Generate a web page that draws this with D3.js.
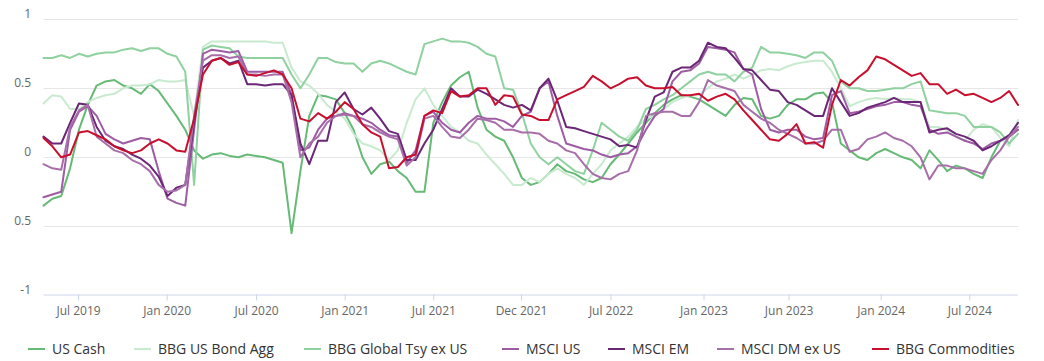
<!DOCTYPE html>
<html><head><meta charset="utf-8">
<script src="https://cdn.jsdelivr.net/npm/d3@7"></script>
<style>body{margin:0;background:#fff;} svg{display:block;font-family:"Open Sans",sans-serif;}</style>
</head><body><svg id="c" width="1044" height="361"></svg>
<script>
const seriesNames = ["US Cash","BBG US Bond Agg","BBG Global Tsy ex US","MSCI US","MSCI EM","MSCI DM ex US","BBG Commodities"];
const seriesColors = ["#66ba76","#c8eacf","#8fd19f","#9d5ca3","#6b2676","#a86ea9","#c8102e"];

const usCash = [-0.35,-0.3,-0.28,-0.08,0.2,0.38,0.52,0.55,0.56,0.52,0.5,0.46,0.53,0.48,0.39,0.3,0.2,0.05,-0.01,0.02,0.03,0.01,0.0,0.02,0.01,0.0,-0.02,-0.04,-0.55,-0.1,0.3,0.45,0.44,0.42,0.32,0.2,0.0,-0.12,-0.05,-0.03,-0.1,-0.15,-0.25,-0.25,0.25,0.4,0.52,0.58,0.62,0.36,0.2,0.15,0.12,0.0,-0.15,-0.2,-0.18,-0.12,-0.05,-0.1,-0.12,-0.16,-0.18,-0.15,-0.05,0.02,0.1,0.18,0.25,0.32,0.38,0.42,0.45,0.44,0.42,0.38,0.34,0.3,0.38,0.43,0.42,0.3,0.28,0.3,0.38,0.42,0.42,0.46,0.47,0.4,0.1,0.05,0.0,-0.02,0.03,0.06,0.03,0.0,-0.02,-0.08,0.05,-0.02,-0.1,-0.06,-0.08,-0.12,-0.15,0.0,0.12,0.15,0.2];
const usBondAgg = [0.39,0.45,0.44,0.35,0.35,0.4,0.43,0.45,0.46,0.5,0.52,0.52,0.53,0.56,0.55,0.55,0.56,0.3,0.8,0.84,0.84,0.84,0.84,0.84,0.84,0.84,0.83,0.83,0.65,0.55,0.52,0.46,0.38,0.33,0.28,0.17,0.1,0.08,0.05,-0.02,0.05,0.25,0.42,0.5,0.38,0.3,0.22,0.18,0.12,0.1,0.02,-0.05,-0.12,-0.2,-0.2,-0.15,-0.18,-0.12,-0.08,-0.12,-0.15,-0.2,-0.12,-0.05,0.05,0.1,0.15,0.22,0.28,0.3,0.35,0.4,0.43,0.45,0.45,0.5,0.55,0.57,0.6,0.57,0.6,0.63,0.64,0.63,0.66,0.68,0.69,0.7,0.7,0.62,0.5,0.37,0.4,0.42,0.43,0.42,0.43,0.42,0.42,0.4,0.22,0.22,0.2,0.15,0.12,0.2,0.24,0.22,0.14,0.08,0.27];
const globalTsy = [0.72,0.72,0.74,0.72,0.75,0.73,0.75,0.76,0.76,0.78,0.79,0.77,0.79,0.79,0.75,0.73,0.62,-0.2,0.78,0.81,0.8,0.79,0.73,0.72,0.72,0.72,0.72,0.72,0.6,0.5,0.6,0.72,0.72,0.69,0.68,0.68,0.62,0.68,0.7,0.68,0.65,0.62,0.6,0.82,0.84,0.86,0.84,0.84,0.83,0.8,0.75,0.73,0.5,0.49,0.32,0.1,0.0,-0.05,0.0,-0.05,-0.1,-0.12,0.05,0.25,0.2,0.15,0.12,0.2,0.35,0.38,0.42,0.45,0.5,0.55,0.6,0.62,0.6,0.6,0.55,0.62,0.65,0.8,0.76,0.76,0.75,0.74,0.72,0.76,0.76,0.7,0.55,0.5,0.5,0.48,0.48,0.49,0.5,0.5,0.53,0.55,0.34,0.33,0.32,0.32,0.3,0.22,0.22,0.22,0.18,0.1,0.17];
const msciUS = [-0.29,-0.27,-0.25,0.2,0.33,0.37,0.3,0.17,0.13,0.1,0.12,0.14,0.13,-0.1,-0.3,-0.33,-0.35,0.2,0.75,0.78,0.77,0.76,0.77,0.62,0.62,0.62,0.62,0.62,0.45,0.05,0.07,0.2,0.28,0.3,0.32,0.3,0.28,0.25,0.2,0.16,0.15,-0.04,0.05,0.3,0.33,0.25,0.2,0.18,0.25,0.3,0.28,0.28,0.26,0.22,0.3,0.33,0.5,0.55,0.3,0.1,0.08,0.06,0.05,0.02,0.0,0.02,0.03,0.08,0.2,0.3,0.35,0.55,0.62,0.63,0.68,0.8,0.79,0.78,0.76,0.64,0.6,0.35,0.2,0.18,0.2,0.2,0.15,0.13,0.14,0.45,0.48,0.32,0.33,0.35,0.37,0.38,0.4,0.4,0.38,0.37,0.2,0.17,0.18,0.15,0.12,0.1,0.06,0.1,0.12,0.15,0.2];
const msciEM = [0.15,0.1,0.1,0.25,0.39,0.38,0.22,0.12,0.08,0.06,0.02,-0.01,-0.06,-0.14,-0.28,-0.22,-0.2,0.25,0.65,0.7,0.72,0.68,0.7,0.53,0.53,0.52,0.53,0.53,0.45,0.1,-0.05,0.12,0.12,0.4,0.47,0.35,0.31,0.36,0.28,0.19,0.17,-0.02,-0.02,0.1,0.2,0.35,0.5,0.44,0.44,0.49,0.46,0.42,0.38,0.36,0.38,0.34,0.5,0.57,0.41,0.22,0.21,0.19,0.17,0.15,0.13,0.08,0.09,0.07,0.27,0.44,0.47,0.62,0.65,0.65,0.7,0.83,0.8,0.79,0.72,0.64,0.63,0.56,0.49,0.48,0.4,0.38,0.34,0.3,0.3,0.5,0.4,0.3,0.32,0.36,0.38,0.4,0.43,0.4,0.4,0.4,0.18,0.2,0.21,0.17,0.15,0.12,0.05,0.08,0.12,0.16,0.25];
const msciDM = [-0.05,-0.08,-0.09,0.22,0.34,0.38,0.15,0.1,0.05,0.03,-0.02,-0.05,-0.1,-0.2,-0.25,-0.24,-0.2,0.3,0.7,0.74,0.74,0.72,0.73,0.6,0.6,0.59,0.6,0.6,0.4,0.0,0.1,0.15,0.25,0.3,0.31,0.3,0.24,0.22,0.18,0.15,0.13,-0.06,0.0,0.28,0.3,0.22,0.15,0.14,0.2,0.28,0.27,0.25,0.2,0.2,0.18,0.18,0.17,0.12,0.1,0.05,0.03,-0.05,-0.12,-0.15,-0.16,-0.12,-0.1,0.05,0.3,0.32,0.33,0.33,0.3,0.3,0.4,0.56,0.52,0.5,0.48,0.38,0.33,0.28,0.25,0.2,0.17,0.14,0.1,0.1,0.12,0.2,0.2,0.04,0.06,0.13,0.15,0.18,0.14,0.12,0.08,0.0,-0.16,-0.06,-0.06,-0.08,-0.08,-0.1,-0.12,-0.02,0.05,0.15,0.22];
const commodities = [0.14,0.08,0.0,0.02,0.18,0.19,0.16,0.13,0.08,0.05,0.03,0.05,0.1,0.13,0.1,0.05,0.04,0.28,0.6,0.7,0.72,0.67,0.69,0.6,0.59,0.61,0.63,0.6,0.5,0.28,0.26,0.32,0.28,0.33,0.4,0.35,0.24,0.18,0.15,-0.08,-0.07,0.0,0.02,0.3,0.34,0.32,0.48,0.44,0.45,0.5,0.5,0.38,0.45,0.44,0.31,0.3,0.27,0.27,0.42,0.45,0.48,0.51,0.59,0.55,0.5,0.53,0.57,0.58,0.52,0.5,0.5,0.51,0.45,0.45,0.46,0.41,0.44,0.46,0.42,0.34,0.27,0.2,0.13,0.12,0.17,0.24,0.1,0.11,0.07,0.38,0.56,0.52,0.58,0.63,0.73,0.71,0.67,0.63,0.59,0.61,0.53,0.53,0.46,0.49,0.45,0.46,0.43,0.4,0.43,0.48,0.38];

const xTickLabels = ["Jul 2019","Jan 2020","Jul 2020","Jan 2021","Jul 2021","Dec 2021","Jul 2022","Jan 2023","Jun 2023","Jan 2024","Jul 2024"];
const xTickIndex = [3.9,13.9,24,34,44,53.9,64,74.5,84.1,94.5,104.5];
const yTickValues = [-1,-0.5,0,0.5,1];
const yTickLabels = ["-1","0.5","0","0.5","1"];

const allSeries = [usCash,usBondAgg,globalTsy,msciUS,msciEM,msciDM,commodities];
const svg = d3.select("#c");
const N = usCash.length;
const x = d3.scaleLinear().domain([0, N-1]).range([43.5, 1018]);
const y = d3.scaleLinear().domain([-1, 1]).range([295.3, 19.3]);

svg.append("g").selectAll("line").data(yTickValues.filter(v => v > -1)).join("line")
  .attr("x1", 43.5).attr("x2", 1018).attr("y1", d => Math.round(y(d)) + 0.5).attr("y2", d => Math.round(y(d)) + 0.5)
  .attr("stroke", "#e6e6e6").attr("stroke-width", 1);

svg.append("g").selectAll("text").data(yTickValues).join("text")
  .attr("x", 31).attr("y", d => y(d) - 1)
  .attr("text-anchor", "end").attr("fill", "#666").attr("font-size", 12)
  .text((d, i) => yTickLabels[i]);

const xAxis = d3.axisBottom(x).tickValues(xTickIndex).tickSize(6).tickPadding(6)
  .tickFormat((d, i) => xTickLabels[i]);
const gx = svg.append("g").attr("transform", "translate(0," + (Math.round(y(-1)) - 0.5) + ")").call(xAxis);
gx.select(".domain").attr("stroke", "#ccd6eb").attr("d", "M43.5,0.5H1018");
gx.selectAll(".tick line").attr("stroke", "#ccd6eb");
gx.selectAll(".tick text").attr("fill", "#666").attr("font-size", 12).attr("font-family", "Open Sans, sans-serif");

const line = d3.line().x((d, i) => x(i)).y(d => y(d)).curve(d3.curveLinear);
svg.append("g").selectAll("path").data(allSeries).join("path")
  .attr("d", d => line(d)).attr("fill", "none")
  .attr("stroke", (d, i) => seriesColors[i]).attr("stroke-width", 2)
  .attr("stroke-linejoin", "round").attr("stroke-linecap", "round");

const legendX = [28, 134, 304, 502, 608, 717, 872];
const lg = svg.append("g").selectAll("g").data(seriesNames).join("g")
  .attr("transform", (d, i) => "translate(" + legendX[i] + ",349)");
lg.append("line").attr("x1", 0).attr("x2", 17).attr("y1", 0).attr("y2", 0)
  .attr("stroke", (d, i) => seriesColors[i]).attr("stroke-width", 2);
lg.append("text").attr("x", 24).attr("y", 5).attr("fill", "#333").attr("font-size", 14)
  .text(d => d);
</script></body></html>
